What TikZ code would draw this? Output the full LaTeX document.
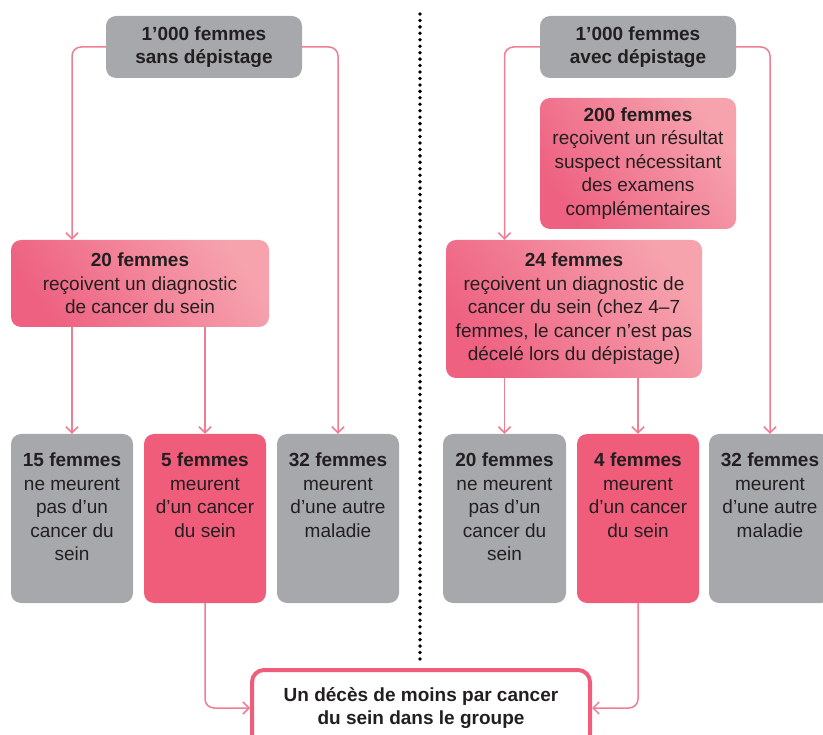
\documentclass[tikz,border=0pt]{standalone}
\usepackage{fontspec}
\setmainfont{Liberation Sans}
\usetikzlibrary{arrows.meta}
\definecolor{boxgray}{HTML}{A6A8AB}
\definecolor{pinksolid}{HTML}{EF5D7B}
\definecolor{gradDark}{HTML}{EE6181}
\definecolor{gradLight}{HTML}{F6A3AE}
\definecolor{conncol}{HTML}{F07E93}
\definecolor{txtcol}{HTML}{231F20}
\tikzset{
  basefont/.style={font=\fontsize{19}{23.5}\selectfont, text=txtcol, align=center},
  graybox/.style={basefont, rectangle, rounded corners=10pt, fill=boxgray, inner sep=0pt},
  pinkbox/.style={basefont, rectangle, rounded corners=10pt, fill=pinksolid, inner sep=0pt},
  gradbox/.style={basefont, rectangle, rounded corners=10pt, inner sep=0pt,
     top color=gradLight, bottom color=gradDark, shading angle=-55},
  finalbox/.style={basefont, rectangle, rounded corners=12pt, draw=pinksolid, line width=4pt, fill=white, inner sep=0pt},
  boxtext/.style={basefont, inner sep=0pt, anchor=north},
  conn/.style={draw=conncol, line width=1.5pt, rounded corners=9pt, -{Straight Barb[length=6pt,width=12pt]}},
  divider/.style={draw=black, line width=3.8pt, line cap=round, dash pattern=on 0pt off 6.45pt}
}
\begin{document}
\begin{tikzpicture}[x=1pt,y=-1pt]
\useasboundingbox (0,0) rectangle (823,735);
\clip (0,0) rectangle (823,735);

% divider
\coordinate (dtop) at (420,14);
\coordinate (dbot) at (420,660);
\draw[divider] (dtop) -- (dbot);

% ---------- left side ----------
\node[graybox, minimum width=196pt, minimum height=62pt] (t1) at (204,47)
  {\textbf{1’000 femmes}\\\textbf{sans dépistage}};
\node[gradbox, minimum width=258pt, minimum height=87pt] (d1) at (140,283.5)
  {\textbf{20 femmes}\\reçoivent un diagnostic\\de cancer du sein};
\node[graybox, minimum width=122pt, minimum height=169pt] (b1) at (72,518.5) {};
\node[pinkbox, minimum width=122pt, minimum height=169pt] (b2) at (205,518.5) {};
\node[graybox, minimum width=122pt, minimum height=169pt] (b3) at (338,518.5) {};
\node[boxtext] (b1t) at ([yshift=-19pt]b1.north) {\textbf{15 femmes}\\ne meurent\\pas d’un\\cancer du\\sein};
\node[boxtext] (b2t) at ([yshift=-19pt]b2.north) {\textbf{5 femmes}\\meurent\\d’un cancer\\du sein};
\node[boxtext] (b3t) at ([yshift=-19pt]b3.north) {\textbf{32 femmes}\\meurent\\d’une autre\\maladie};

% ---------- right side ----------
\node[graybox, minimum width=196pt, minimum height=62pt] (t2) at (638,47)
  {\textbf{1’000 femmes}\\\textbf{avec dépistage}};
\node[gradbox, minimum width=196pt, minimum height=131pt] (s2) at (638,163.5)
  {\textbf{200 femmes}\\reçoivent un résultat\\suspect nécessitant\\des examens\\complémentaires};
\node[gradbox, minimum width=256pt, minimum height=138pt] (d2) at (574,309)
  {\textbf{24 femmes}\\reçoivent un diagnostic de\\cancer du sein (chez 4–7\\femmes, le cancer n’est pas\\décelé lors du dépistage)};
\node[graybox, minimum width=123pt, minimum height=169pt] (c1) at (504.5,518.5) {};
\node[pinkbox, minimum width=122pt, minimum height=169pt] (c2) at (638,518.5) {};
\node[graybox, minimum width=122pt, minimum height=169pt] (c3) at (770,518.5) {};
\node[boxtext] (c1t) at ([yshift=-19pt]c1.north) {\textbf{20 femmes}\\ne meurent\\pas d’un\\cancer du\\sein};
\node[boxtext] (c2t) at ([yshift=-19pt]c2.north) {\textbf{4 femmes}\\meurent\\d’un cancer\\du sein};
\node[boxtext] (c3t) at ([yshift=-19pt]c3.north) {\textbf{32 femmes}\\meurent\\d’une autre\\maladie};

% final box
\node[finalbox, minimum width=338pt, minimum height=76pt] (fin) at (421,708)
  {\textbf{Un décès de moins par cancer}\\\textbf{du sein dans le groupe}};

% ---------- connectors ----------
\draw[conn] (t1.west) -| (b1.north |- d1.north);
\draw[conn] (t1.east) -| (b3.north);
\draw[conn] (d1.south -| b1.north) -- (b1.north);
\draw[conn] (d1.south -| b2.north) -- (b2.north);
\draw[conn] (b2.south) |- (fin.west);

\draw[conn] (t2.west) -| (c1.north |- d2.north);
\draw[conn] (t2.east) -| (c3.north);
\draw[conn] (d2.south -| c1.north) -- (c1.north);
\draw[conn] (d2.south -| c2.north) -- (c2.north);
\draw[conn] (c2.south) |- (fin.east);
\end{tikzpicture}
\end{document}
